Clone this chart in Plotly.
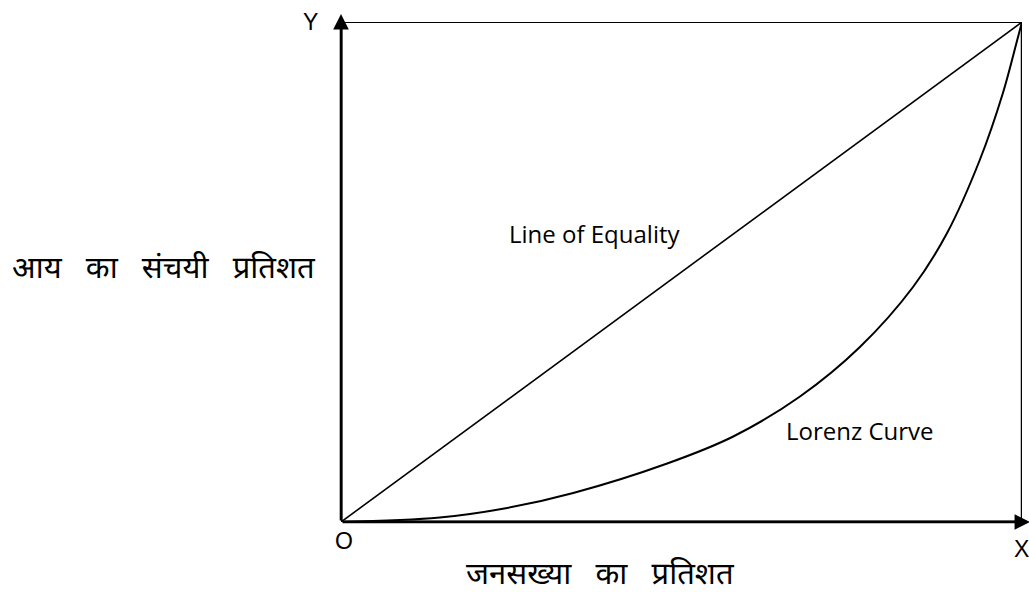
import plotly.graph_objects as go

# Lorenz curve (cumulative % of population vs cumulative % of income)
pop_pct = [0, 14.5, 24.4, 34.1, 47.9, 57.6, 67.4, 76.2, 84.0, 89.0, 93.8, 97.2, 99.3, 100]
income_pct = [0, 0.9, 2.8, 5.8, 11.7, 17.1, 25.1, 35.0, 47.0, 57.8, 72.4, 85.8, 96.4, 100]

# Line of equality
eq_x = [0, 100]
eq_y = [0, 100]

PL, PR, PT, PB = 341, 1022, 22, 522  # plot area in pixels
W, H = 1029, 592


def px(x):
    return (x - PL) / (PR - PL)


def py(y):
    return (PB - y) / (PB - PT)


fig = go.Figure()
fig.add_trace(go.Scatter(x=eq_x, y=eq_y, mode="lines", cliponaxis=False,
                         line=dict(color="black", width=1.6), hoverinfo="skip"))
fig.add_trace(go.Scatter(x=pop_pct, y=income_pct, mode="lines", cliponaxis=False,
                         line=dict(color="black", width=2, shape="spline", smoothing=1.0),
                         hoverinfo="skip"))

# box: top and right
fig.add_shape(type="line", x0=0, y0=100, x1=100, y1=100, line=dict(color="black", width=2))
fig.add_shape(type="line", x0=100, y0=0, x1=100, y1=100, line=dict(color="black", width=2.5))

# axes with arrows
fig.add_annotation(x=0, y=101.6, ax=0, ay=0, xref="x", yref="y", axref="x", ayref="y",
                   showarrow=True, arrowhead=2, arrowsize=1.2, arrowwidth=2.6,
                   arrowcolor="black", text="")
fig.add_annotation(x=101.2, y=0, ax=0, ay=0, xref="x", yref="y", axref="x", ayref="y",
                   showarrow=True, arrowhead=2, arrowsize=1.2, arrowwidth=2.6,
                   arrowcolor="black", text="")

ltr_font = dict(family="Liberation Sans, Arial, sans-serif", size=23, color="black")
hin_font = dict(family="Noto Sans, Lohit Devanagari, sans-serif", size=31, color="black")
lbl_font = dict(family="Open Sans, Liberation Sans, sans-serif", size=24, color="black")

GAP = "\u00a0\u00a0 "
y_title = GAP.join(["आय", "का", "संचयी", "प्रतिशत"])
x_title = GAP.join(["जनसख्या", "का", "प्रतिशत"])


def label(x, y, text, font):
    fig.add_annotation(x=px(x), y=py(y), xref="paper", yref="paper", text=text,
                       showarrow=False, font=font, xanchor="center", yanchor="middle")


label(310, 22, "Y", ltr_font)
label(344, 541, "O", ltr_font)
label(1021, 549, "X", ltr_font)
label(595, 233, "Line of Equality", lbl_font)
label(860, 430, "Lorenz Curve", lbl_font)
label(164, 266, y_title, hin_font)
label(600, 572, x_title, hin_font)

fig.update_xaxes(range=[0, 100], visible=False, showgrid=False, zeroline=False)
fig.update_yaxes(range=[0, 100], visible=False, showgrid=False, zeroline=False)

# left and bottom axes lines
fig.add_shape(type="line", x0=0, y0=0, x1=0, y1=100, line=dict(color="black", width=3))
fig.add_shape(type="line", x0=0, y0=0, x1=100, y1=0, line=dict(color="black", width=3))

fig.update_layout(width=W, height=H, showlegend=False,
                  paper_bgcolor="white", plot_bgcolor="white",
                  margin=dict(l=PL, r=W - PR, t=PT, b=H - PB))

fig.write_html("out.html", config={"displayModeBar": False},
               post_script="document.body.style.margin='0px';")
